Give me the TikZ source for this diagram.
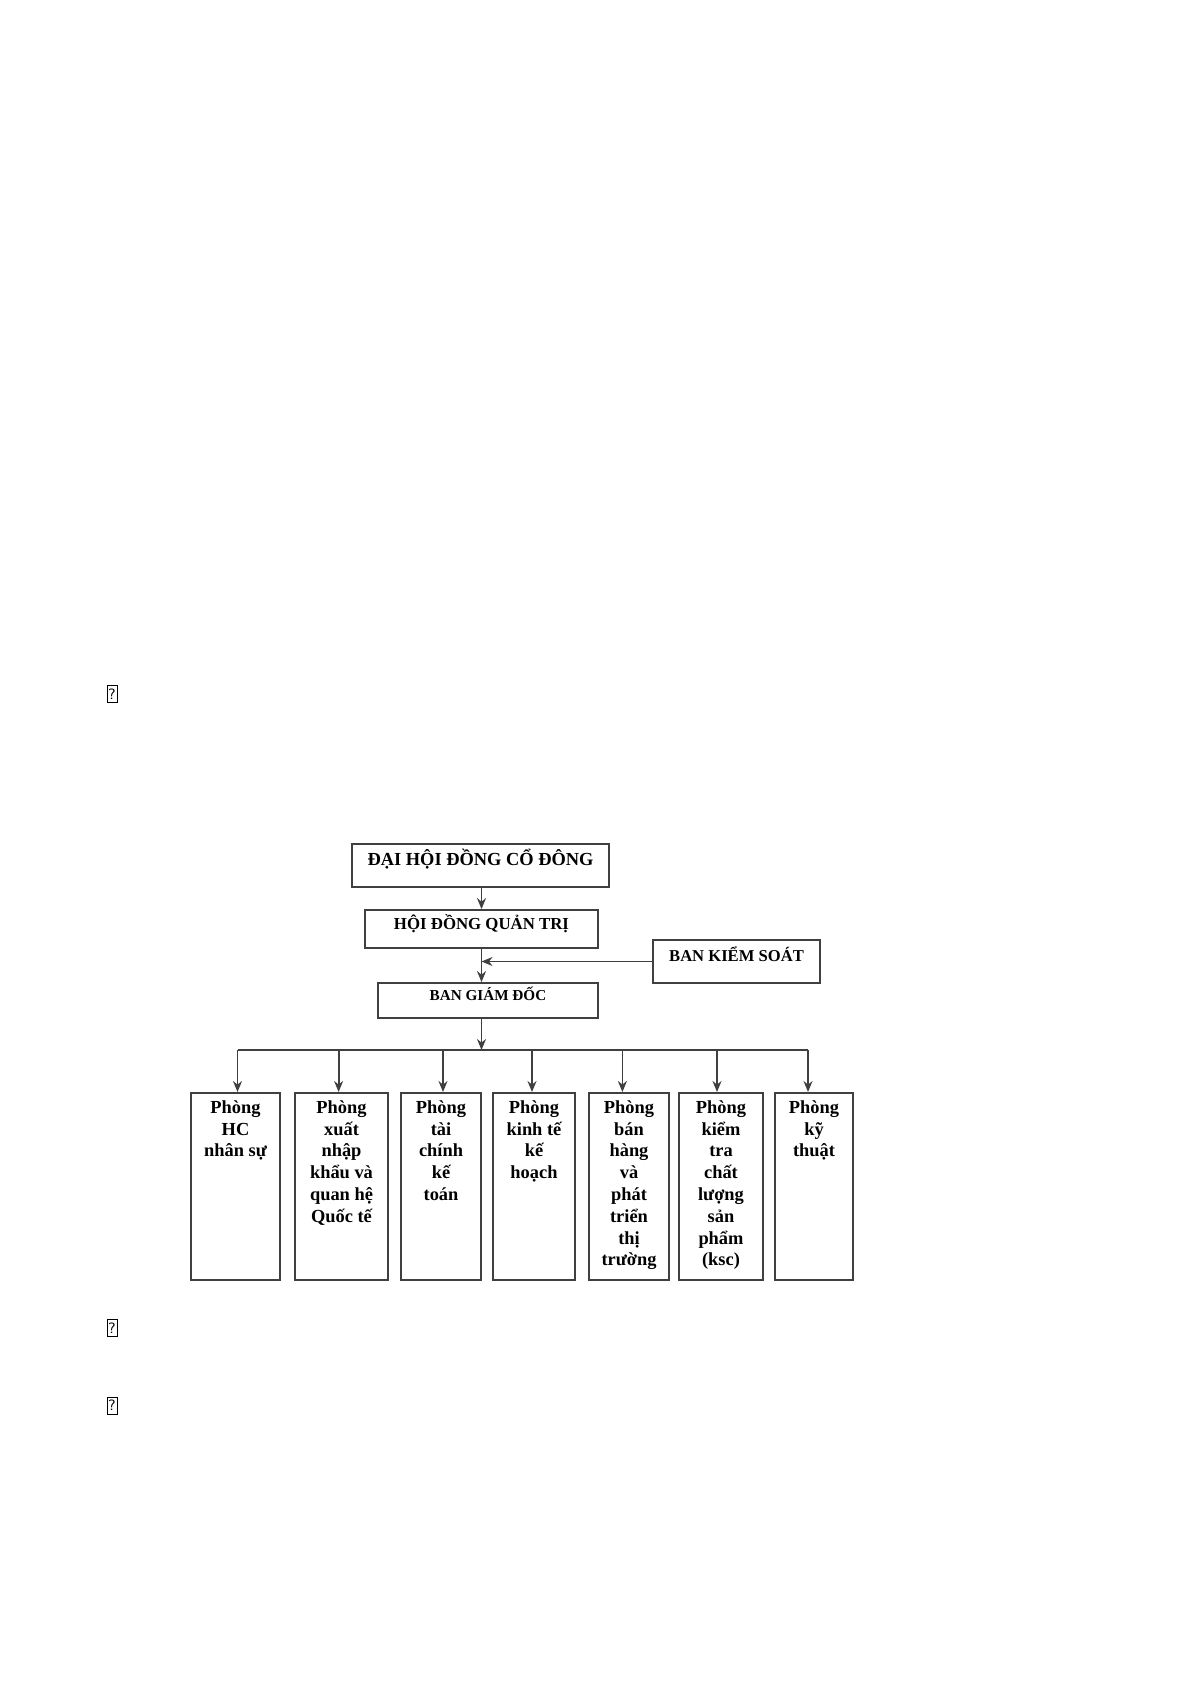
\documentclass[tikz,border=0pt]{standalone}
\usepackage{fontspec}
\setmainfont{Liberation Serif}
\usetikzlibrary{arrows.meta}
\colorlet{linegray}{black!75}
\newcommand{\phong}[1]{\parbox[t][93.5pt][t]{37pt}{\centering\rule{0pt}{10.2pt}#1}}
\tikzset{
  box/.style={draw=linegray, line width=0.9pt, inner sep=0pt, font=\bfseries},
  dept/.style={box, anchor=north, font=\fontsize{9.2}{10.9}\selectfont\bfseries},
  wire/.style={draw=linegray, line width=0.9pt},
  arrowline/.style={wire, -{Stealth[length=5.5pt,width=4.5pt]}},
  glyph/.style={draw, line width=0.5pt, inner sep=0pt, minimum width=5pt,
    minimum height=8.5pt, font=\fontsize{7.5}{8}\selectfont\sffamily}
}
\begin{document}
\begin{tikzpicture}[x=0.5pt, y=-0.5pt]
  \useasboundingbox (0,0) rectangle (1192,1685);
  % missing glyph marks
  \node[glyph] (q1) at (112,694) {?};
  \node[glyph] (q2) at (112,1328) {?};
  \node[glyph] (q3) at (112,1405.5) {?};
  % top of the chart
  \node[box, minimum width=128.5pt, text height=10.75pt, text depth=10.75pt,
    font=\fontsize{9.2}{11}\selectfont\bfseries] (dhcd) at (480.5,865.5) {ĐẠI HỘI ĐỒNG CỔ ĐÔNG};
  \node[box, minimum width=116.5pt, text height=9.5pt, text depth=9.5pt,
    font=\fontsize{8.4}{10}\selectfont\bfseries] (hdqt) at (481.5,929) {HỘI ĐỒNG QUẢN TRỊ};
  \node[box, minimum width=83.5pt, text height=10.75pt, text depth=10.75pt,
    font=\fontsize{8.3}{10}\selectfont\bfseries] (bks) at (736.5,961.5) {BAN KIỂM SOÁT};
  \node[box, minimum width=110pt, text height=8.75pt, text depth=8.75pt,
    font=\fontsize{7.6}{9}\selectfont\bfseries] (bgd) at (488,1000.5) {BAN GIÁM ĐỐC};
  \draw[arrowline] (dhcd.south -| hdqt.north) -- (hdqt.north);
  \draw[arrowline] (hdqt.south) -- (hdqt.south |- bgd.north);
  \coordinate (jn) at (hdqt.south |- bks.west);
  \draw[arrowline] (bks.west) -- (jn);
  % departments
  \node[dept, minimum width=44.5pt] (p1) at (235.5,1092) {\phong{Phòng\\HC\\nhân sự}};
  \node[dept, minimum width=46.5pt] (p2) at (341.5,1092) {\phong{Phòng\\xuất\\nhập\\khẩu và\\quan hệ\\Quốc tế}};
  \node[dept, minimum width=40.25pt] (p3) at (441,1092) {\phong{Phòng\\tài\\chính\\kế\\toán}};
  \node[dept, minimum width=41pt] (p4) at (534,1092) {\phong{Phòng\\kinh tế\\kế\\hoạch}};
  \node[dept, minimum width=39.8pt] (p5) at (629,1092) {\phong{Phòng\\bán\\hàng\\và\\phát\\triển\\thị\\trường}};
  \node[dept, minimum width=42pt] (p6) at (721,1092) {\phong{Phòng\\kiểm\\tra\\chất\\lượng\\sản\\phẩm\\(ksc)}};
  \node[dept, minimum width=39.25pt] (p7) at (814,1092) {\phong{Phòng\\kỹ\\thuật}};
  % bus
  \coordinate (bus) at (481.7,1050);
  \draw[arrowline] (hdqt.south |- bgd.south) -- (hdqt.south |- bus);
  \foreach \n/\x in {1/237.5, 2/338.6, 3/443, 4/532, 5/622.4, 6/717, 7/808}
    \coordinate (b\n) at (\x,1050);
  \draw[wire] (b1) -- (b7);
  \foreach \n in {1,...,7}
    \draw[arrowline] (b\n) -- (b\n |- p\n.north);
\end{tikzpicture}
\end{document}
